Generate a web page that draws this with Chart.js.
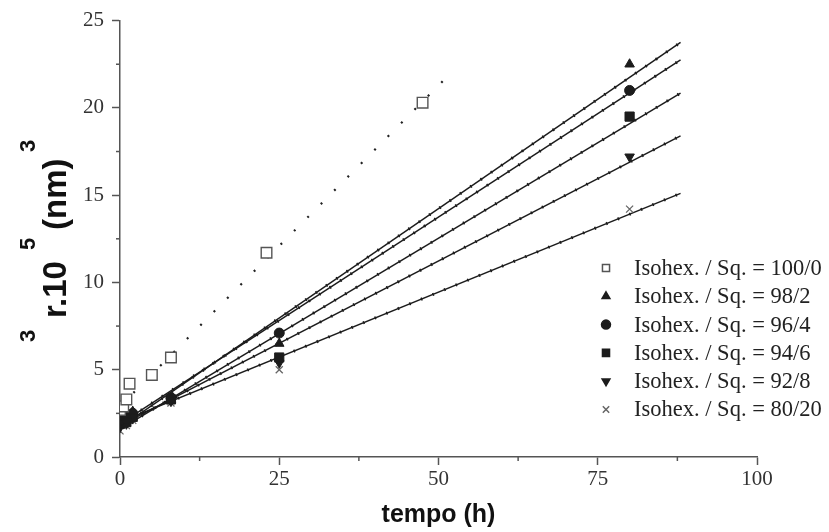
<!DOCTYPE html>
<html>
<head>
<meta charset="utf-8">
<style>
  html, body { margin: 0; padding: 0; background: #fff; }
  #wrap { width: 829px; height: 532px; }
</style>
<script src="https://cdn.jsdelivr.net/npm/chart.js@4.4.1/dist/chart.umd.min.js"></script>
</head>
<body>
<div id="wrap"><canvas id="chart" width="829" height="532"></canvas></div>
<script>
// measured points (time in h, r^3 in 1e5 nm^3)
const SERIES_LABELS = [
  'Isohex. / Sq. = 100/0',
  'Isohex. / Sq. = 98/2',
  'Isohex. / Sq. = 96/4',
  'Isohex. / Sq. = 94/6',
  'Isohex. / Sq. = 92/8',
  'Isohex. / Sq. = 80/20'
];

const T_100_0 = [0, 0.5, 1, 1.5, 5, 8, 23, 47.5];
const R_100_0 = [2.7, 2.9, 3.3, 4.2, 4.7, 5.7, 11.7, 20.3];

const T_MIX = [0, 1, 2, 8, 25, 80];
const R_98_2 = [2.3, 2.4, 2.6, 3.3, 6.5, 22.5];
const R_96_4 = [2.1, 2.2, 2.5, 3.4, 7.1, 21.0];
const R_94_6 = [1.9, 2.0, 2.3, 3.3, 5.7, 19.5];
const R_92_8 = [1.7, 1.9, 2.2, 3.2, 5.4, 17.2];
const R_80_20 = [1.5, 1.8, 2.1, 3.1, 5.0, 14.2];

// linear fits: value at start and end time
const FIT_T = [0, 88];
const FIT_98_2 = [1.7, 23.75];
const FIT_96_4 = [1.9, 22.75];
const FIT_94_6 = [1.6, 20.85];
const FIT_92_8 = [1.8, 18.4];
const FIT_80_20 = [2.0, 15.1];

const FIT_T_100 = [0, 52.5];
const FIT_100_0 = [2.9, 22.2];

// axis ticks
const X_TICKS = [0, 25, 50, 75, 100];
const Y_TICKS = [0, 5, 10, 15, 20, 25];
const X_MINOR = [12.5, 37.5, 62.5, 87.5];
const Y_MINOR = [2.5, 7.5, 12.5, 17.5, 22.5];

const pts = (xs, ys) => xs.map((x, i) => ({ x: x, y: ys[i] }));

const INK = '#1c1c1c';
const AXIS = '#555';
const serif = '"Liberation Serif", "Times New Roman", serif';
const sans = '"Liberation Sans", Arial, sans-serif';

const markerStyles = [
  { pointStyle: 'rect', rotation: 0, fill: '#fff', stroke: '#555', radius: 7.5, bw: 1.4 },
  { pointStyle: 'triangle', rotation: 0, fill: INK, stroke: INK, radius: 5.5, bw: 1 },
  { pointStyle: 'circle', rotation: 0, fill: INK, stroke: INK, radius: 5, bw: 1 },
  { pointStyle: 'rect', rotation: 0, fill: INK, stroke: INK, radius: 6.5, bw: 1 },
  { pointStyle: 'triangle', rotation: 180, fill: INK, stroke: INK, radius: 5.5, bw: 1 },
  { pointStyle: 'crossRot', rotation: 0, fill: '#666', stroke: '#666', radius: 5, bw: 1.3 }
];

const markerData = [
  pts(T_100_0, R_100_0),
  pts(T_MIX, R_98_2),
  pts(T_MIX, R_96_4),
  pts(T_MIX, R_94_6),
  pts(T_MIX, R_92_8),
  pts(T_MIX, R_80_20)
];

const markerSets = markerData.map((d, i) => ({
  label: SERIES_LABELS[i],
  data: d,
  showLine: false,
  pointStyle: markerStyles[i].pointStyle,
  rotation: markerStyles[i].rotation,
  pointRadius: markerStyles[i].radius,
  backgroundColor: markerStyles[i].fill,
  borderColor: markerStyles[i].stroke,
  borderWidth: markerStyles[i].bw
}));

// fit line, drawn twice: a thin solid line plus a sparse dotted overlay for the beaded look
const fitLine = (ys, label) => [{
  label: label,
  data: pts(FIT_T, ys),
  showLine: true,
  pointRadius: 0,
  borderColor: INK,
  borderWidth: 1.5,
  fill: false
}, {
  label: label + ' beads',
  data: pts(FIT_T, ys),
  showLine: true,
  pointRadius: 0,
  borderColor: INK,
  borderWidth: 3,
  borderDash: [1.5, 11],
  fill: false
}];

const fitSets = [].concat(
  fitLine(FIT_98_2, 'fit 98/2'),
  fitLine(FIT_96_4, 'fit 96/4'),
  fitLine(FIT_94_6, 'fit 94/6'),
  fitLine(FIT_92_8, 'fit 92/8'),
  fitLine(FIT_80_20, 'fit 80/20'),
  [{
    label: 'fit 100/0',
    data: pts(FIT_T_100, FIT_100_0),
    showLine: true,
    pointRadius: 0,
    borderColor: '#222',
    borderWidth: 2.2,
    borderDash: [2, 17],
    fill: false
  }]
);

// minor ticks, legend inside plot area, and the rotated y title with superscripts
const decorations = {
  id: 'decorations',
  afterDraw(chart) {
    const ctx = chart.ctx;
    const xs = chart.scales.x, ys = chart.scales.y;
    const area = chart.chartArea;
    ctx.save();
    ctx.strokeStyle = AXIS;
    ctx.lineWidth = 1.5;
    Y_MINOR.forEach(v => {
      const py = ys.getPixelForValue(v);
      ctx.beginPath(); ctx.moveTo(area.left - 4, py); ctx.lineTo(area.left, py); ctx.stroke();
    });
    X_MINOR.forEach(v => {
      const px = xs.getPixelForValue(v);
      ctx.beginPath(); ctx.moveTo(px, area.bottom); ctx.lineTo(px, area.bottom + 4); ctx.stroke();
    });

    // legend
    ctx.textBaseline = 'middle';
    ctx.textAlign = 'left';
    ctx.font = '22.5px ' + serif;
    SERIES_LABELS.forEach((lab, i) => {
      const y = 268 + i * 28.3;
      const m = markerStyles[i];
      ctx.fillStyle = m.fill;
      ctx.strokeStyle = m.stroke;
      Chart.helpers.drawPoint(ctx, {
        pointStyle: m.pointStyle, rotation: m.rotation,
        radius: m.pointStyle === 'rect' ? 5 : 4.5, borderWidth: m.bw
      }, 606, y);
      ctx.fillStyle = '#222';
      ctx.fillText(lab, 634, y + 1);
    });

    // y title
    ctx.translate(66, 342);
    ctx.rotate(-Math.PI / 2);
    ctx.fillStyle = '#111';
    ctx.textBaseline = 'alphabetic';
    const main = 'bold 33px ' + sans;
    const sup = 'bold 22px ' + sans;
    const parts = [['3', sup, 0, -31], ['r.10', main, 24, 0], ['5', sup, 92, -31], ['(nm)', main, 112, 0], ['3', sup, 190, -31]];
    parts.forEach(p => {
      ctx.font = p[1];
      ctx.fillText(p[0], p[2], p[3]);
    });
    ctx.restore();

    // x title
    ctx.save();
    ctx.font = 'bold 25px ' + sans;
    ctx.fillStyle = '#111';
    ctx.textAlign = 'center';
    ctx.textBaseline = 'middle';
    ctx.fillText('tempo (h)', xs.getPixelForValue(50), 515);
    ctx.restore();
  }
};

new Chart(document.getElementById('chart'), {
  type: 'scatter',
  data: { datasets: markerSets.concat(fitSets) },
  options: {
    responsive: false,
    devicePixelRatio: 1,
    animation: false,
    layout: { padding: { left: 0, right: 72, top: 18, bottom: 0 } },
    plugins: { legend: { display: false }, tooltip: { enabled: false } },
    scales: {
      x: {
        type: 'linear',
        min: 0, max: 100,
        afterFit: s => { s.height = 75; },
        afterBuildTicks: s => { s.ticks = X_TICKS.map(v => ({ value: v })); },
        ticks: { font: { family: serif, size: 21 }, color: '#333', padding: 2 },
        grid: { drawOnChartArea: false, drawTicks: true, tickLength: 8, tickColor: AXIS, tickWidth: 1.5 },
        border: { display: true, color: AXIS, width: 1.5 }
      },
      y: {
        type: 'linear',
        min: 0, max: 25,
        afterFit: s => { s.width = 120; },
        afterBuildTicks: s => { s.ticks = Y_TICKS.map(v => ({ value: v })); },
        ticks: { font: { family: serif, size: 21 }, color: '#333', padding: 8 },
        grid: { drawOnChartArea: false, drawTicks: true, tickLength: 8, tickColor: AXIS, tickWidth: 1.5 },
        border: { display: true, color: AXIS, width: 1.5 }
      }
    }
  },
  plugins: [decorations]
});
</script>
</body>
</html>
